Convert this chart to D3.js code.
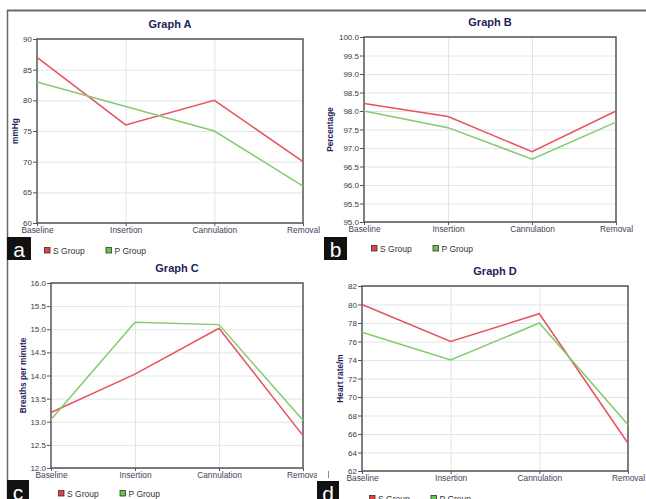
<!DOCTYPE html>
<html><head><meta charset="utf-8">
<script src="https://cdn.jsdelivr.net/npm/d3@7/dist/d3.min.js"></script>
<style>body{margin:0;background:#fff;}svg{display:block;}</style>
</head><body>
<svg id="chart" width="646" height="499"></svg>
<script>
const categories = ["Baseline", "Insertion", "Cannulation", "Removal"];
const seriesNames = ["S Group", "P Group"];

// Graph A: mmHg
const aS = [87, 76, 80, 70];
const aP = [83, 79, 75, 66];
const aTicks = [60, 65, 70, 75, 80, 85, 90];
// Graph B: Percentage
const bS = [98.2, 97.85, 96.9, 98.0];
const bP = [98.0, 97.55, 96.7, 97.7];
const bTicks = [95.0, 95.5, 96.0, 96.5, 97.0, 97.5, 98.0, 98.5, 99.0, 99.5, 100.0];
// Graph C: Breaths per minute
const cS = [13.2, 14.03, 15.02, 12.7];
const cP = [13.05, 15.15, 15.1, 13.03];
const cTicks = [12.0, 12.5, 13.0, 13.5, 14.0, 14.5, 15.0, 15.5, 16.0];
// Graph D: Heart rate/m
const dS = [80, 76, 79, 65];
const dP = [77, 74, 78, 67];
const dTicks = [62, 64, 66, 68, 70, 72, 74, 76, 78, 80, 82];

const titles = ["Graph A", "Graph B", "Graph C", "Graph D"];
const yTitles = ["mmHg", "Percentage", "Breaths per minute", "Heart rate/m"];
const letters = ["a", "b", "c", "d"];

const panels = [
  {title: titles[0], yTitle: yTitles[0], letter: letters[0], S: aS, P: aP, ticks: aTicks, fmt: d3.format("d"),
   box: {l: 37, t: 39, r: 303, b: 223}, yt: 15, legY: 247, lb: {x: 7, y: 237, w: 24, h: 23}},
  {title: titles[1], yTitle: yTitles[1], letter: letters[1], S: bS, P: bP, ticks: bTicks, fmt: d3.format(".1f"),
   box: {l: 364, t: 37, r: 616, b: 222}, yt: 330, legY: 245, lb: {x: 324, y: 237, w: 23, h: 23}},
  {title: titles[2], yTitle: yTitles[2], letter: letters[2], S: cS, P: cP, ticks: cTicks, fmt: d3.format(".1f"),
   box: {l: 51, t: 283, r: 303, b: 468}, yt: 23, legY: 490, lb: {x: 7, y: 480, w: 22, h: 23}, clipX: 317},
  {title: titles[3], yTitle: yTitles[3], letter: letters[3], S: dS, P: dP, ticks: dTicks, fmt: d3.format("d"),
   box: {l: 362, t: 286, r: 628, b: 471}, yt: 340, legY: 495, lb: {x: 317, y: 481, w: 22, h: 23}}
];

const svg = d3.select("#chart");
const FONT = "'Liberation Sans', Arial, sans-serif";
const lineColors = ["#e8525e", "#82cc6e"];
const legFill = ["#e8403f", "#66c455"];

// outer frame (top and left)
svg.append("line").attr("x1", 7).attr("x2", 646).attr("y1", 10.5).attr("y2", 10.5)
  .attr("stroke", "#6a6a6a").attr("stroke-width", 2);
svg.append("line").attr("x1", 7.5).attr("x2", 7.5).attr("y1", 10).attr("y2", 499)
  .attr("stroke", "#6a6a6a").attr("stroke-width", 1.5);

panels.forEach((p, i) => {
  const g = svg.append("g");
  if (p.clipX) {
    const cid = "clip" + i;
    svg.append("clipPath").attr("id", cid).append("rect")
      .attr("x", 0).attr("y", 250).attr("width", p.clipX).attr("height", 249);
    g.attr("clip-path", `url(#${cid})`);
  }
  const x = d3.scalePoint().domain(categories).range([p.box.l, p.box.r]);
  const y = d3.scaleLinear().domain(d3.extent(p.ticks)).range([p.box.b, p.box.t]);

  // gridlines
  g.append("g").selectAll("line").data(p.ticks).join("line")
    .attr("x1", p.box.l).attr("x2", p.box.r)
    .attr("y1", d => y(d) + 0.5).attr("y2", d => y(d) + 0.5)
    .attr("stroke", "#dfe6e6").attr("stroke-width", 1);
  g.append("g").selectAll("line").data(categories.slice(1, -1)).join("line")
    .attr("x1", d => x(d) + 0.5).attr("x2", d => x(d) + 0.5)
    .attr("y1", p.box.t).attr("y2", p.box.b)
    .attr("stroke", "#dfe6e6").attr("stroke-width", 1);

  // y axis
  const yAxis = d3.axisLeft(y).tickValues(p.ticks).tickFormat(p.fmt).tickSize(4).tickPadding(1);
  const ya = g.append("g").attr("transform", `translate(${p.box.l},0)`).call(yAxis);
  ya.select(".domain").remove();
  ya.selectAll("line").attr("stroke", "#555");
  ya.selectAll("text").attr("font-family", FONT).attr("font-size", 8).attr("fill", "#3a3a48");

  // x axis
  const xAxis = d3.axisBottom(x).tickSize(3).tickPadding(1);
  const xa = g.append("g").attr("transform", `translate(0,${p.box.b})`).call(xAxis);
  xa.select(".domain").remove();
  xa.selectAll("line").attr("stroke", "#555");
  xa.selectAll("text").attr("font-family", FONT).attr("font-size", 8.4).attr("fill", "#48405a");

  // plot frame
  g.append("rect").attr("x", p.box.l).attr("y", p.box.t)
    .attr("width", p.box.r - p.box.l).attr("height", p.box.b - p.box.t)
    .attr("fill", "none").attr("stroke", "#555").attr("stroke-width", 1.5);

  // lines
  [p.S, p.P].forEach((vals, k) => {
    const line = d3.line().x((d, j) => x(categories[j])).y(d => y(d));
    g.append("path").datum(vals).attr("d", line)
      .attr("fill", "none").attr("stroke", lineColors[k]).attr("stroke-width", 1.5);
  });
  // redraw red on top of green? keep order: S then P (P on top)

  // title
  svg.append("text").attr("x", (p.box.l + p.box.r) / 2).attr("y", p.box.t - 15)
    .attr("text-anchor", "middle").attr("dominant-baseline", "central")
    .attr("font-family", FONT).attr("font-weight", "bold").attr("font-size", 11)
    .attr("fill", "#1e1e5a").text(p.title);

  // y title
  svg.append("text").attr("transform", `translate(${p.yt},${(p.box.t + p.box.b) / 2}) rotate(-90)`)
    .attr("text-anchor", "middle").attr("dominant-baseline", "central")
    .attr("font-family", FONT).attr("font-weight", "bold").attr("font-size", 8.3)
    .attr("fill", "#1e1e5a").text(p.yTitle);

  // legend
  seriesNames.forEach((name, k) => {
    const lx = p.box.l + 7 + k * 61.5;
    svg.append("rect").attr("x", lx + 0.5).attr("y", p.legY + 0.5).attr("width", 5.5).attr("height", 5.5)
      .attr("fill", legFill[k]).attr("stroke", "#333").attr("stroke-width", 0.8);
    svg.append("text").attr("x", lx + 9).attr("y", p.legY + 3.5)
      .attr("dominant-baseline", "central")
      .attr("font-family", FONT).attr("font-size", 8.5).attr("fill", "#333").text(name);
  });

  // panel letter box
  svg.append("rect").attr("x", p.lb.x).attr("y", p.lb.y).attr("width", p.lb.w).attr("height", p.lb.h)
    .attr("fill", "#111");
  svg.append("text").attr("x", p.lb.x + p.lb.w / 2).attr("y", p.lb.y + p.lb.h / 2 + 1)
    .attr("text-anchor", "middle").attr("dominant-baseline", "central")
    .attr("font-family", FONT).attr("font-size", 21).attr("fill", "#fff").text(p.letter);
});

// small stray mark near panel D
svg.append("line").attr("x1", 328.5).attr("x2", 328.5).attr("y1", 471).attr("y2", 478)
  .attr("stroke", "#888").attr("stroke-width", 1);
</script>
</body></html>
